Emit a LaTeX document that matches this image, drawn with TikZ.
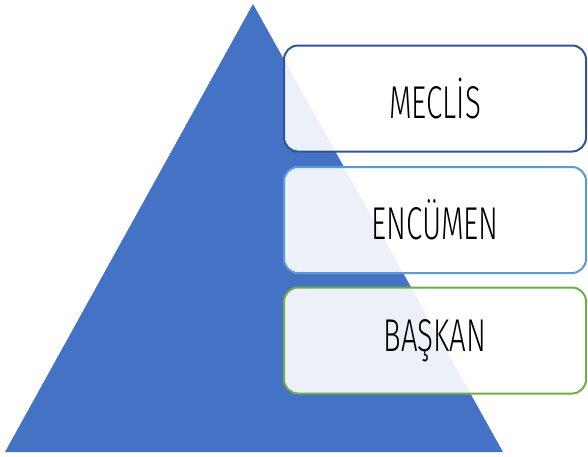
\documentclass[tikz,border=0pt]{standalone}
\usepackage{fontspec}
\newfontfamily\kutufont[FakeStretch=0.64]{Fira Sans Light}
\usepackage{tikz}
\usetikzlibrary{positioning}

\definecolor{ucgenmavi}{RGB}{68,114,196}
\definecolor{meclismavi}{RGB}{47,85,151}
\definecolor{encumenmavi}{RGB}{91,155,213}
\definecolor{baskanyesil}{RGB}{112,173,71}

\tikzset{
  kutu/.style={rectangle, rounded corners=14pt, line width=2pt,
    fill=white, fill opacity=0.9, text opacity=1,
    minimum width=302pt, minimum height=106pt,
    font=\kutufont\fontsize{46}{52}\selectfont}
}

\begin{document}
\begin{tikzpicture}[x=1pt,y=-1pt]
\useasboundingbox (0,0) rectangle (588,456);
\fill[ucgenmavi] (253,4) -- (503,452) -- (5,452) -- cycle;
\node[kutu, draw=meclismavi] (meclis) at (435,98.5) {MECLİS};
\node[kutu, draw=encumenmavi] (encumen) at (435,220) {ENCÜMEN};
\node[kutu, draw=baskanyesil] (baskan) at (435,340.5) {BAŞKAN};
\end{tikzpicture}
\end{document}
